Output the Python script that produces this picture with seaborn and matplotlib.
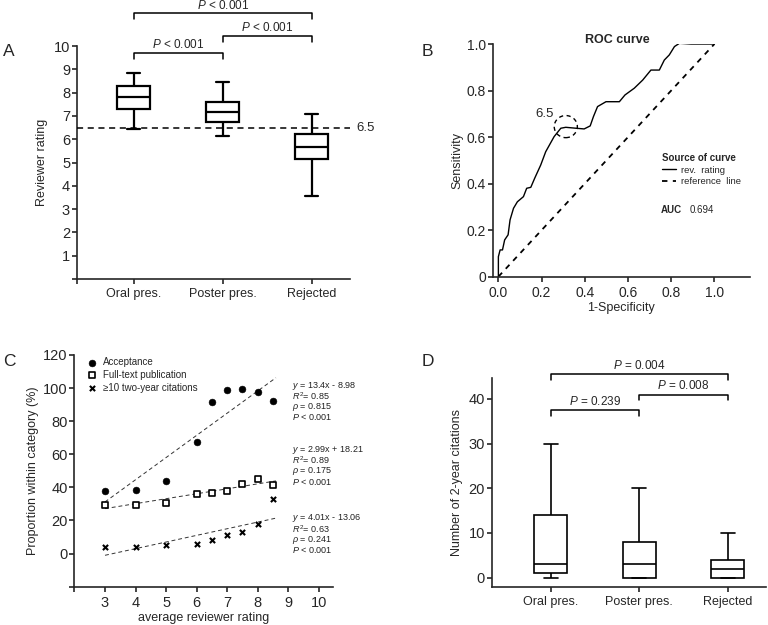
import numpy as np
import pandas as pd
import matplotlib
matplotlib.use("Agg")
import matplotlib.pyplot as plt
import seaborn as sns
from matplotlib.patches import Ellipse

groups = ["Oral pres.", "Poster pres.", "Rejected"]

# five-number summaries (min, Q1, median, Q3, max)
rating_oral = [6.45, 7.3, 7.8, 8.3, 8.85]
rating_poster = [6.12, 6.75, 7.17, 7.6, 8.47]
rating_rejected = [3.58, 5.15, 5.68, 6.22, 7.08]

cites_oral = [0, 1, 3, 14, 30]
cites_poster = [0, 0, 3, 8, 20]
cites_rejected = [0, 0, 2, 4, 10]

# p-values: oral-poster, poster-rejected, oral-rejected
p_rating = ["< 0.001", "< 0.001", "< 0.001"]
p_cites = ["= 0.239", "= 0.008", "= 0.004"]

# ROC curve
roc_fpr = [0, 0, 0.008, 0.019, 0.029, 0.045, 0.054, 0.07, 0.088, 0.116, 0.131, 0.15,
           0.168, 0.196, 0.219, 0.258, 0.289, 0.312, 0.359, 0.397, 0.425, 0.44, 0.459,
           0.498, 0.56, 0.586, 0.629, 0.668, 0.706, 0.745, 0.768, 0.791, 0.815, 0.838,
           0.892, 1.0]
roc_tpr = [0, 0.086, 0.115, 0.115, 0.158, 0.18, 0.244, 0.294, 0.322, 0.344, 0.38, 0.384,
           0.423, 0.48, 0.537, 0.602, 0.638, 0.642, 0.638, 0.635, 0.648, 0.688, 0.731,
           0.752, 0.752, 0.781, 0.81, 0.845, 0.888, 0.888, 0.931, 0.953, 0.989, 1.003,
           1.0, 1.0]
auc = 0.694
cutoff = (0.312, 0.645)

# proportion within category vs average rating
rating_x = [3, 4, 5, 6, 6.5, 7, 7.5, 8, 8.5]
acceptance = [38, 38.6, 44, 67.7, 91.3, 98.9, 99.7, 97.5, 92]
fulltext = [29.1, 29.5, 30.5, 36, 36.8, 37.8, 42.2, 45.2, 41.6]
citations10 = [3.8, 4, 5, 6, 8, 11, 13, 17.9, 33.2]

fit_slope = [13.4, 2.99, 4.01]
fit_intercept = [-8.98, 18.21, -13.06]
fit_eq = ["13.4x - 8.98", "2.99x + 18.21", "4.01x - 13.06"]
fit_r2 = ["0.85", "0.89", "0.63"]
fit_rho = ["0.815", "0.175", "0.241"]
fit_p = ["< 0.001", "< 0.001", "< 0.001"]

sns.set_theme(style="ticks")
plt.rcParams["font.family"] = ["Liberation Sans", "DejaVu Sans"]
plt.rcParams["mathtext.fontset"] = "custom"
plt.rcParams["mathtext.it"] = "Liberation Sans:italic"
plt.rcParams["mathtext.rm"] = "Liberation Sans"
plt.rcParams["axes.linewidth"] = 1.2
plt.rcParams["xtick.major.width"] = 1.2
plt.rcParams["ytick.major.width"] = 1.2
plt.rcParams["xtick.major.size"] = 3.5
plt.rcParams["ytick.major.size"] = 3.5
plt.rcParams["ytick.major.pad"] = 1.5
plt.rcParams["xtick.major.pad"] = 3

fig = plt.figure(figsize=(7.68, 6.25), dpi=100)
axA = fig.add_axes([0.1003, 0.5536, 0.3555, 0.3728])
axB = fig.add_axes([0.6419, 0.5573, 0.3342, 0.3723])
axC = fig.add_axes([0.097, 0.0613, 0.3366, 0.3707])
axD = fig.add_axes([0.6406, 0.0608, 0.3564, 0.3344])


def bracket(ax, x1, x2, y, tip, label, ty):
    ax.plot([x1, x1, x2, x2], [tip, y, y, tip], color="black", lw=1.1, clip_on=False)
    ax.text((x1 + x2) / 2, ty, "$P$ " + label, ha="center", va="center", fontsize=8.5)


def shorten_caps(ax, half=0.073):
    # whisker caps are the short horizontal segments
    for ln in ax.lines:
        xs, ys = np.asarray(ln.get_xdata(), float), np.asarray(ln.get_ydata(), float)
        if len(xs) == 2 and ys[0] == ys[1] and 0 < abs(xs[1] - xs[0]) < 0.3:
            c = xs.mean()
            ln.set_xdata([c - half, c + half])


# ---- A: reviewer rating boxplot
dfA = pd.DataFrame({"group": np.repeat(groups, 5),
                    "rating": rating_oral + rating_poster + rating_rejected})
sns.boxplot(data=dfA, x="group", y="rating", ax=axA, whis=(0, 100), width=0.37,
            color="white", linecolor="black", linewidth=1.6, fliersize=0)
shorten_caps(axA)
axA.axhline(6.5, color="black", ls=(0, (4, 3)), lw=1.1, zorder=5)
axA.text(1.022, 6.5, "6.5", transform=axA.get_yaxis_transform(), va="center", fontsize=9.5)
axA.set_xlim(-0.64, 2.43)
axA.set_ylim(0, 10)
axA.set_yticks(range(0, 11))
axA.set_yticklabels([""] + [str(i) for i in range(1, 11)], fontsize=10.5)
axA.set_xticks([-0.64, 0, 1, 2])
axA.set_xticklabels(["", *groups], fontsize=9)
axA.set_xlabel("")
axA.set_ylabel("Reviewer rating", fontsize=9, labelpad=4)
bracket(axA, 0, 1, 9.71, 9.45, p_rating[0], 10.08)
bracket(axA, 1, 2, 10.45, 10.19, p_rating[1], 10.78)
bracket(axA, 0, 2, 11.4, 11.14, p_rating[2], 11.74)
sns.despine(ax=axA)

# ---- B: ROC curve
sns.lineplot(x=roc_fpr, y=roc_tpr, sort=False, estimator=None, color="black", lw=1.0,
             ax=axB, label="rev.  rating")
sns.lineplot(x=[0, 1], y=[0, 1], sort=False, estimator=None, color="black", lw=1.3,
             ls=(0, (3, 3)), ax=axB, label="reference  line")
axB.add_patch(Ellipse(cutoff, 0.107, 0.095, fill=False, ec="black", lw=1.0,
                      ls=(0, (3, 2.5))))
axB.text(0.216, 0.698, "6.5", ha="center", va="center", fontsize=9.5)
axB.text(0.552, 1.017, "ROC curve", ha="center", va="center", fontsize=9, weight="bold")
leg = axB.legend(loc="upper left", bbox_to_anchor=(0.64, 0.55), frameon=False,
                 title="Source of curve", fontsize=6.8, handlelength=1.5,
                 handletextpad=0.5, labelspacing=0.25, borderpad=0, alignment="left")
leg.get_title().set_fontsize(7)
leg.get_title().set_fontweight("bold")
axB.text(0.652, 0.287, "AUC", transform=axB.transAxes, fontsize=7, weight="bold",
         va="center")
axB.text(0.766, 0.287, f"{auc:.3f}", transform=axB.transAxes, fontsize=7, va="center")
axB.set_xlim(-0.025, 1.163)
axB.set_ylim(0, 1.0)
axB.set_xticks([0, 0.2, 0.4, 0.6, 0.8, 1.0])
axB.set_xticklabels(["0.0", "0.2", "0.4", "0.6", "0.8", "1.0"], fontsize=10)
axB.set_yticks([0, 0.2, 0.4, 0.6, 0.8, 1.0])
axB.set_yticklabels(["0", "0.2", "0.4", "0.6", "0.8", "1.0"], fontsize=10)
axB.set_xlabel("1-Specificity", fontsize=9, labelpad=2)
axB.set_ylabel("Sensitivity", fontsize=9, labelpad=2)
sns.despine(ax=axB)

# ---- C: proportions vs rating
sns.scatterplot(x=rating_x, y=acceptance, ax=axC, marker="o", s=24, color="black",
                edgecolor="black", label="Acceptance", zorder=3)
sns.scatterplot(x=rating_x, y=fulltext, ax=axC, marker="s", s=20, facecolor="white",
                edgecolor="black", linewidth=1.2, label="Full-text publication", zorder=3)
sns.scatterplot(x=rating_x, y=citations10, ax=axC, marker="x", s=14, color="black",
                linewidth=1.5, label="\u226510 two-year citations", zorder=3)
fit_x = np.array([3, 8.6])
for k in range(3):
    sns.lineplot(x=fit_x, y=fit_slope[k] * fit_x + fit_intercept[k], ax=axC,
                 color="#333333", lw=0.7, ls=(0, (4, 3)), legend=False)
block_top = [101.5, 62.7, 21.3]
for k in range(3):
    lines = [f"$y$ = {fit_eq[k]}", f"$R^2$= {fit_r2[k]}", f"$\\rho$ = {fit_rho[k]}",
             f"$P$ {fit_p[k]}"]
    for j, s in enumerate(lines):
        axC.text(9.13, block_top[k] - 6.4 * j, s, fontsize=6.5, va="center",
                 color="#222222", clip_on=False)
axC.legend(loc="upper left", bbox_to_anchor=(0.025, 1.012), frameon=False, fontsize=7,
           handletextpad=0.6, labelspacing=0.3, borderpad=0, handlelength=1.2)
axC.set_xlim(2, 10.47)
axC.set_ylim(-20, 120)
axC.set_xticks(range(2, 11))
axC.set_xticklabels([""] + [str(i) for i in range(3, 11)], fontsize=10.5)
axC.set_yticks(range(-20, 121, 20))
axC.set_yticklabels([""] + [str(i) for i in range(0, 121, 20)], fontsize=10.5)
axC.set_xlabel("average reviewer rating", fontsize=9, labelpad=2)
axC.set_ylabel("Proportion within category (%)", fontsize=9, labelpad=3)
sns.despine(ax=axC)

# ---- D: 2-year citations boxplot
dfD = pd.DataFrame({"group": np.repeat(groups, 5),
                    "cites": cites_oral + cites_poster + cites_rejected})
sns.boxplot(data=dfD, x="group", y="cites", ax=axD, whis=(0, 100), width=0.37,
            color="white", linecolor="black", linewidth=1.2, fliersize=0)
shorten_caps(axD, half=0.08)
axD.set_xlim(-0.665, 2.43)
axD.set_ylim(-2.1, 44.7)
axD.set_yticks([0, 10, 20, 30, 40])
axD.set_yticklabels(["0", "10", "20", "30", "40"], fontsize=10.5)
axD.set_xticks([0, 1, 2])
axD.set_xticklabels(groups, fontsize=9)
axD.set_xlabel("")
axD.set_ylabel("Number of 2-year citations", fontsize=9, labelpad=4)
bracket(axD, 0, 1, 37.6, 36.2, p_cites[0], 39.5)
bracket(axD, 1, 2, 41.0, 39.8, p_cites[1], 43.0)
bracket(axD, 0, 2, 45.6, 44.3, p_cites[2], 47.5)
sns.despine(ax=axD)

for letter, x, y in [("A", 0.004, 0.917), ("B", 0.549, 0.917),
                     ("C", 0.004, 0.422), ("D", 0.549, 0.421)]:
    fig.text(x, y, letter, fontsize=12.5, va="center")

fig.savefig("out.png", dpi=100)
